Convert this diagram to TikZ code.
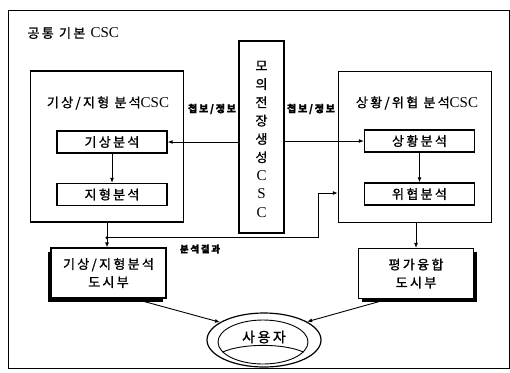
\documentclass[tikz,border=0pt]{standalone}
\usepackage{fontspec}
\setmainfont{Liberation Serif}
\newfontfamily\kr[LetterSpace=18,FakeBold=1.2]{Noto Sans CJK KR}
\usetikzlibrary{arrows.meta}
\usetikzlibrary{shapes.geometric,shadows}

\newcommand{\cscname}{{\rmfamily\fontsize{15}{15}\selectfont CSC}}
\newcommand{\vlatin}[1]{\rmfamily\fontsize{15}{18.3}\selectfont #1}

\tikzset{
	bigbox/.style={draw,line width=1.5pt,minimum width=153pt,minimum height=151pt},
	subbox/.style={draw,line width=1.3pt,fill=white,minimum width=110pt,minimum height=22pt,font=\kr\fontsize{13}{15}\selectfont},
	dispbox/.style={draw,line width=1.2pt,fill=white,minimum width=115pt,minimum height=50pt,align=center,font=\kr\fontsize{13}{18}\selectfont},
	arr/.style={-{Latex[length=5pt,width=4pt]},line width=0.9pt},
	lbl/.style={font=\kr\bfseries\fontsize{10}{12}\selectfont},
	ttl/.style={font=\kr\fontsize{13}{15}\selectfont}
}

\begin{document}
\begin{tikzpicture}[x=1pt,y=-1pt]

		\useasboundingbox (0,0) rectangle (510,372);
		\draw [line width=0.8pt] (8,10) rectangle (509,368);
		\node [ttl,anchor=west] (common) at (24,33) {공통 기본 \cscname};

		% left and right analysis CSC
		\node [bigbox] (geo) at (107,146.5) {};
		\node [ttl] (geotitle) at (108,103) {기상/지형 분석\cscname};
		\node [subbox] (wx) at (112,142) {기상분석};
		\node [subbox] (ter) at (112,194.5) {지형분석};

		\node [bigbox] (sit) at (415,147) {};
		\node [ttl] (sittitle) at (417,103) {상황/위협 분석\cscname};
		\node [subbox] (sa) at (419.5,141) {상황분석};
		\node [subbox] (th) at (419.5,194) {위협분석};

		% simulation CSC in the middle
		\node [draw,line width=2pt,minimum width=45pt,minimum height=192pt] (sim) at (261.5,137) {};
		\node [align=center,font=\kr\fontsize{13}{18.3}\selectfont] (simtext) at (261.5,139)
			{모\\의\\전\\장\\생\\성\\\vlatin{C}\\\vlatin{S}\\\vlatin{C}};

		\node [lbl] (infoL) at (212,109) {첩보/정보};
		\node [lbl] (infoR) at (311,109) {첩보/정보};
		\node [lbl,font=\kr\bfseries\fontsize{9.5}{11}\selectfont] (result) at (200,249) {분석결과};

		% display units
		\node [dispbox,drop shadow={shadow xshift=-3.5pt,shadow yshift=-3.5pt,fill=black,opacity=1}] (gdisp) at (108.5,273) {기상/지형분석\\도시부};
		\node [dispbox,drop shadow={shadow xshift=3.5pt,shadow yshift=-3.5pt,fill=black,opacity=1}] (fdisp) at (416,273.5) {평가융합\\도시부};

		% user
		\node [ellipse,draw,line width=1.2pt,minimum width=114pt,minimum height=54pt] (user) at (264,340) {};
		\node [ellipse,draw,line width=0.9pt,minimum width=90pt,minimum height=44pt] (userin) at (263,342) {};
		\node [ttl,font=\kr\fontsize{14}{15}\selectfont] (usertext) at (264,337) {사용자};
		\draw [line width=0.9pt] (userin.194) .. controls +(20,-9) and +(-20,-9) .. (userin.346);

		\draw [arr] (sim.west |- wx.east) -- (wx.east);
		\draw [arr] (sim.east |- sa.west) -- (sa.west);
		\draw [arr] (wx) -- (ter);
		\draw [arr] (sa) -- (th);

		\draw [arr] (geo.south) -- (geo.south |- gdisp.north);
		\path (geo.south) ++(0,15) coordinate (j);
		\coordinate (bend) at (318,193);
		\fill (j) circle (1.6pt);
		\draw [arr] (j) -- (j -| bend) -- (bend) -- (bend -| sit.west);
		\draw [arr] (sit.south -| fdisp.north) -- (fdisp.north);

		\draw [arr] (gdisp.south) ++(25,0) -- (user.158);
		\draw [arr] (fdisp.south) ++(-28,0) -- (user.23);

\end{tikzpicture}
\end{document}
